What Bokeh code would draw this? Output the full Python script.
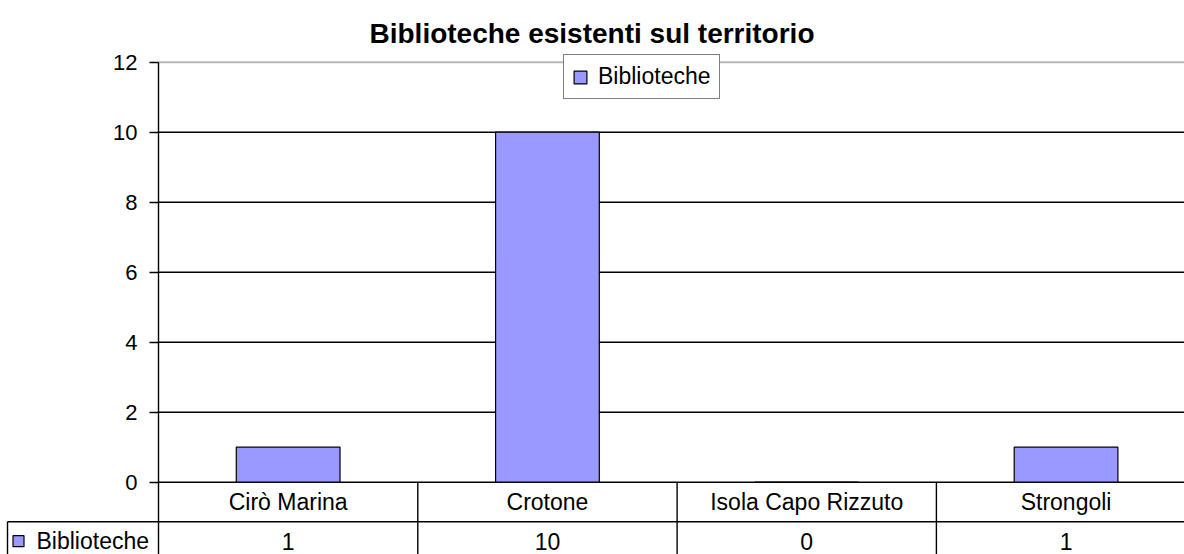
from bokeh.plotting import figure
from bokeh.models import Range1d, FixedTicker, Legend, LegendItem
from bokeh.core.properties import value
from bokeh.embed import file_html
from bokeh.resources import INLINE

# ---- data ----
categories = ["Cirò Marina", "Crotone", "Isola Capo Rizzuto", "Strongoli"]
biblioteche = [1, 10, 0, 1]
series_name = "Biblioteche"
y_ticks = [0, 2, 4, 6, 8, 10, 12]
title_text = "Biblioteche esistenti sul territorio"

BAR = "#9999FF"
FONT = "Liberation Sans"
W, H = 1184, 554
AXIS_PX, TOP = 158, 53
Y12_PX = 61.7            # pixel row of the top gridline
CAT_PX = 259.3           # pixels per category
PX_PER_UNIT = 35.0       # pixels per y unit
x_start = -AXIS_PX / CAT_PX
x_end = (W - AXIS_PX) / CAT_PX
y_end = 12 + (Y12_PX - TOP) / PX_PER_UNIT
y_start = y_end - (H - TOP) / PX_PER_UNIT
row1 = -39.5 / PX_PER_UNIT          # bottom of the category row of the data table
row2_mid = -59.0 / PX_PER_UNIT      # centre of the values row
box_left = (7 - AXIS_PX) / CAT_PX   # left edge of the series cell

centers = [i + 0.5 for i in range(len(categories))]
n = len(categories)

p = figure(width=W, height=H, output_backend="svg", toolbar_location=None,
           x_range=Range1d(x_start, x_end), y_range=Range1d(y_start, y_end),
           x_axis_location=None, y_axis_location="left",
           min_border_left=0, min_border_right=0, min_border_top=TOP,
           min_border_bottom=0)
p.outline_line_color = None
p.xgrid.visible = False
p.ygrid.visible = False

ax = p.yaxis[0]
ax.fixed_location = 0
ax.bounds = (y_start, y_ticks[-1])
ax.ticker = FixedTicker(ticks=y_ticks)
ax.axis_line_color = "black"
ax.axis_line_width = 1.4
ax.major_tick_out = 9
ax.major_tick_in = 0
ax.major_tick_line_width = 1.4
ax.minor_tick_line_color = None
ax.major_label_text_font = FONT
ax.major_label_text_font_size = "22px"
ax.major_label_text_color = "black"
ax.major_label_standoff = 12

# gridlines (plot area only)
grid_vals = y_ticks[1:-1]
p.segment(x0=[0] * len(grid_vals), y0=grid_vals, x1=[x_end] * len(grid_vals), y1=grid_vals,
          line_color="black", line_width=1.4)
p.segment(x0=[0], y0=[y_ticks[-1]], x1=[x_end], y1=[y_ticks[-1]],
          line_color="#b8b8b8", line_width=2)
p.segment(x0=[0], y0=[0], x1=[x_end], y1=[0], line_color="black", line_width=1.6)

bars = p.vbar(x=centers, top=biblioteche, width=0.4, fill_color=BAR,
              line_color="black", line_width=1.2)

# ---- data table (below the axis) ----
bounds = list(range(1, n + 1))
p.segment(x0=bounds, y0=[y_start] * n, x1=bounds, y1=[0] * n,
          line_color="black", line_width=1.4)
p.segment(x0=[box_left], y0=[row1], x1=[x_end], y1=[row1],
          line_color="black", line_width=1.4)
p.segment(x0=[box_left], y0=[y_start], x1=[box_left], y1=[row1],
          line_color="black", line_width=1.4)
p.text(x=centers, y=[row1 / 2] * n, text=categories,
       text_align="center", text_baseline="middle",
       text_font=value(FONT), text_font_size="23px", text_color="black")
p.text(x=centers, y=[row2_mid] * n, text=[str(v) for v in biblioteche],
       text_align="center", text_baseline="middle",
       text_font=value(FONT), text_font_size="23px", text_color="black")
p.scatter(x=[box_left + 11 / CAT_PX], y=[row2_mid], marker="square", size=11,
          fill_color=BAR, line_color="black", line_width=1.2)
p.text(x=[box_left + 29 / CAT_PX], y=[row2_mid], text=[series_name],
       text_align="left", text_baseline="middle",
       text_font=value(FONT), text_font_size="23px", text_color="black")

# chart legend
legend = Legend(items=[LegendItem(label=series_name, renderers=[bars])],
                location=(563, 455), orientation="vertical",
                glyph_width=16, glyph_height=16, label_standoff=10,
                label_height=25, padding=8, spacing=0, margin=0,
                border_line_color="black", border_line_width=1.2,
                label_text_font=FONT, label_text_font_size="23px",
                label_text_color="black", background_fill_alpha=1)
p.add_layout(legend, "center")

p.title.text = title_text
p.title.text_font = FONT
p.title.text_font_style = "bold"
p.title.text_font_size = "28px"
p.title.align = "left"
p.title.offset = 369
p.title.text_color = "black"

open("out.html", "w").write(file_html(p, INLINE))
